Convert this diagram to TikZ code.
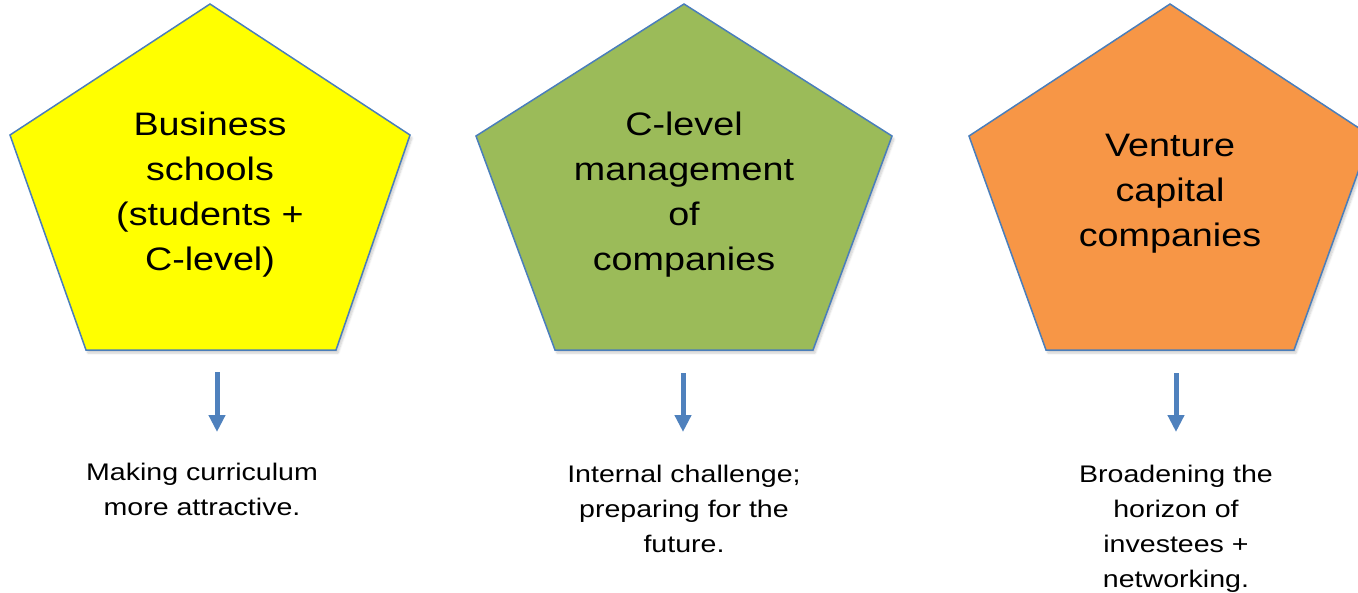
\documentclass[tikz,border=0pt]{standalone}
\usepackage{fontspec}
\setmainfont{Liberation Sans}
\usetikzlibrary{arrows.meta,shadows.blur}

\definecolor{edgeblue}{HTML}{4A7EBB}
\definecolor{arrowblue}{HTML}{4F81BD}
\definecolor{pyellow}{HTML}{FFFF00}
\definecolor{pgreen}{HTML}{9BBB59}
\definecolor{porange}{HTML}{F79646}

\tikzset{
  pentagon/.style={draw=edgeblue, line width=1.5pt, line join=miter,
    blur shadow={shadow xshift=2pt, shadow yshift=-3pt, shadow blur steps=6, shadow opacity=20}},
  bigtext/.style={anchor=north, inner sep=0pt, align=center, xscale=1.16,
    font=\fontsize{32.5}{45}\selectfont},
  smalltext/.style={anchor=north, inner sep=0pt, align=center, xscale=1.19,
    font=\fontsize{24}{35}\selectfont},
  downarrow/.style={draw=arrowblue, line width=5pt,
    -{Triangle[width=16pt,length=17pt]}, arrowblue},
}

\begin{document}
\begin{tikzpicture}[x=1pt, y=-1pt]
  \useasboundingbox (0,0) rectangle (1358,592);

  % three pentagons
  \draw[pentagon, fill=pyellow]
    (210,4) -- (410,135) -- (336,350) -- (86,350) -- (10,135) -- cycle;
  \draw[pentagon, fill=pgreen]
    (684,4) -- (892,136) -- (813,350) -- (555,350) -- (476,136) -- cycle;
  \draw[pentagon, fill=porange]
    (1170,4) -- (1371,136) -- (1294,350) -- (1046,350) -- (969,136) -- cycle;

  % pentagon labels
  \node[bigtext] (p1) at (210,112) {Business\\schools\\(students +\\C-level)};
  \node[bigtext] (p2) at (684,112) {C-level\\management\\of\\companies};
  \node[bigtext] (p3) at (1170,134) {Venture\\capital\\companies};

  % arrows below the pentagons
  \coordinate (a1s) at (217,372);
  \coordinate (a1e) at (217,432);
  \coordinate (a2s) at (683,373);
  \coordinate (a2e) at (683,432);
  \coordinate (a3s) at (1176,373);
  \coordinate (a3e) at (1176,432);
  \draw[downarrow] (a1s) -- (a1e);
  \draw[downarrow] (a2s) -- (a2e);
  \draw[downarrow] (a3s) -- (a3e);

  % outcome texts
  \node[smalltext] (t1) at (202,463) {Making curriculum\\more attractive.};
  \node[smalltext] (t2) at (684,465) {Internal challenge;\\preparing for the\\future.};
  \node[smalltext] (t3) at (1176,465) {Broadening the\\horizon of\\investees +\\networking.};
\end{tikzpicture}
\end{document}
